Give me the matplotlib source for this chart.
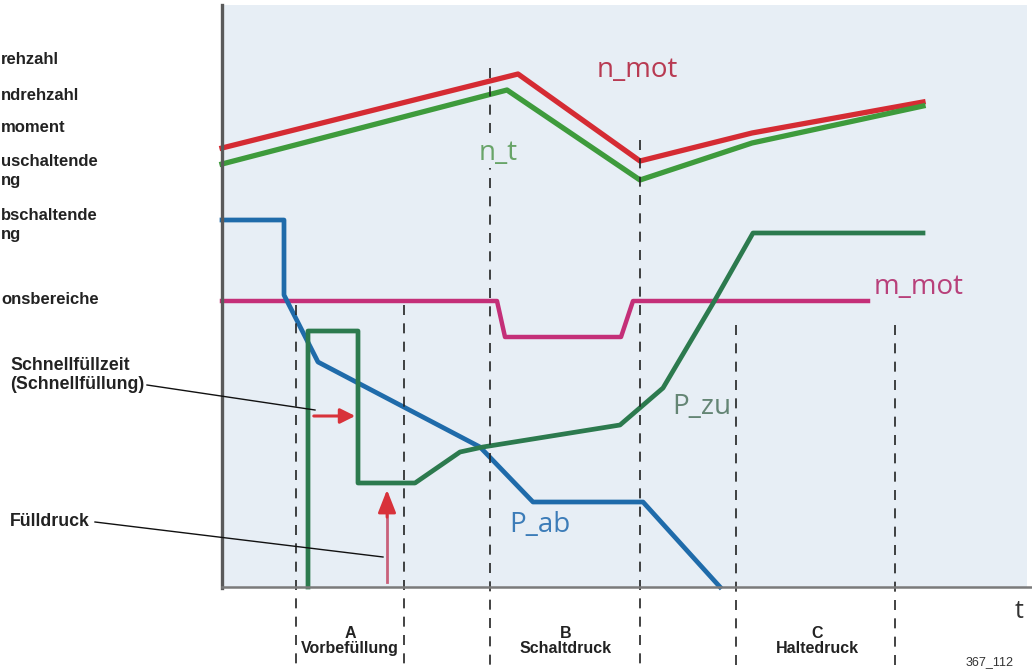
import matplotlib.pyplot as plt
from matplotlib.patches import Rectangle

# coordinates (pixel units, y grows downward)
n_mot_x = [222, 518, 640, 752, 923]
n_mot_y = [148, 74, 161, 133, 102]

n_t_x = [222, 507, 640, 752, 923]
n_t_y = [164, 90, 180, 143, 106]

m_mot_x = [222, 497, 505, 621, 633, 868]
m_mot_y = [301, 301, 337, 337, 301, 301]

p_ab_x = [222, 284, 284, 318, 480, 533, 643, 720]
p_ab_y = [220, 220, 295, 362, 447, 502, 502, 587]

p_zu_x = [308, 308, 358, 358, 415, 460, 483, 620, 663, 715, 753, 923]
p_zu_y = [587, 331, 331, 483, 483, 452, 447, 425, 388, 300, 233, 233]

phase_x = [296, 404, 490, 640, 736, 895]
phase_top = [305, 305, 68, 140, 325, 325]

phase_names = ['A\nVorbefüllung', 'B\nSchaltdruck', 'C\nHaltedruck']
phase_name_x = [350, 566, 817]

# legend texts as far as they are visible at the left edge of the picture
legend_lines = ['rehzahl', 'ndrehzahl', 'moment', 'uschaltende', 'ng',
                'bschaltende', 'ng', 'onsbereiche']
legend_y = [60, 95, 128, 161, 181, 215, 235, 300]

fig = plt.figure(figsize=(10.32, 6.69), dpi=100)
ax = fig.add_axes([0, 0, 1, 1])
ax.set_xlim(0, 1032)
ax.set_ylim(669, 0)
ax.axis('off')

bold = dict(family='Liberation Sans', fontweight='bold', color='#222222')
curve_font = 'Open Sans'
bg = '#E7EEF5'

# plot area
ax.add_patch(Rectangle((222, 5), 805, 582, facecolor=bg, edgecolor='none', zorder=0))
ax.plot([222, 222], [5, 588], color='#5a5a5a', lw=2.4, zorder=5)
ax.plot([222, 1032], [587, 587], color='#7a7a7a', lw=1.8, zorder=5)

# phase boundaries
ax.vlines(phase_x, phase_top, 669, colors='#222222', lw=1.2,
          linestyles=(0, (6, 5)), zorder=4)

# curves
ax.plot(m_mot_x, m_mot_y, color='#C42F78', lw=3.2, zorder=2)
ax.plot(p_ab_x, p_ab_y, color='#1F6BAA', lw=3.4, zorder=2)
ax.plot(p_zu_x, p_zu_y, color='#2C7A4E', lw=3.4, zorder=3)
ax.plot(n_mot_x, n_mot_y, color='#D52B33', lw=3.8, zorder=3)
ax.plot(n_t_x, n_t_y, color='#3E9B3C', lw=3.8, zorder=3)

# curve labels
ax.text(597, 70, 'n_mot', color='#B83A52', fontsize=20, family=curve_font, va='center', zorder=6)
ax.text(479, 153, 'n_t', color='#68A468', fontsize=20, family=curve_font, va='center', zorder=6,
        bbox=dict(facecolor=bg, edgecolor='none', pad=1))
ax.text(874, 287, 'm_mot', color='#B8407A', fontsize=20, family=curve_font, va='center', zorder=6)
ax.text(672, 407, 'P_zu', color='#648574', fontsize=20, family=curve_font, va='center', zorder=6,
        bbox=dict(facecolor=bg, edgecolor='none', pad=1))
ax.text(509, 525, 'P_ab', color='#3C7CB8', fontsize=20, family=curve_font, va='center', zorder=6)

# red arrows
ax.annotate('', xy=(358, 416), xytext=(311, 416),
            arrowprops=dict(arrowstyle='-|>,head_length=0.9,head_width=0.45',
                            color='#D8323A', lw=2.2), zorder=6)
ax.plot([387, 387], [582, 515], color='#C8607A', lw=2.0, zorder=6)
ax.annotate('', xy=(387, 487), xytext=(387, 520),
            arrowprops=dict(arrowstyle='-|>,head_length=1.4,head_width=0.55',
                            color='#D8323A', lw=2.0), zorder=6)

# leader lines and callouts
ax.plot([147, 315], [385, 410], color='#111111', lw=1.0, zorder=6)
ax.plot([95, 383], [522, 557], color='#111111', lw=1.0, zorder=6)
ax.text(10, 375, 'Schnellfüllzeit\n(Schnellfüllung)', fontsize=12.8, va='center',
        linespacing=1.1, **bold)
ax.text(10, 522, 'Fülldruck', fontsize=12.8, va='center', **bold)

# left legend
for label, ye in zip(legend_lines, legend_y):
    ax.text(1, ye, label, fontsize=12, ha='left', va='center', **bold)

# phase names
for label, xc in zip(phase_names, phase_name_x):
    ax.text(xc, 641, label, fontsize=11.5, ha='center', va='center',
            linespacing=1.0, **bold)

ax.text(1019, 611, 't', fontsize=18, color='#333333', family=curve_font, ha='center', va='center')
ax.text(966, 668, '367_112', fontsize=9, color='#333333', family='Liberation Sans', va='bottom')

fig.savefig('out.png', dpi=100)
